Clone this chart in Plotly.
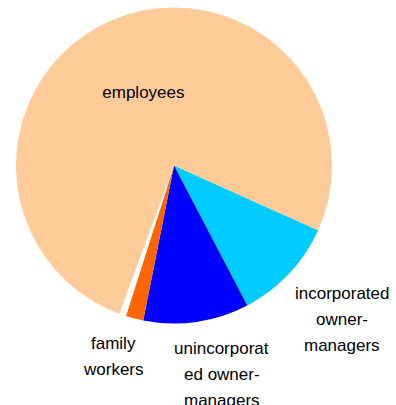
import plotly.graph_objects as go

# Share of workers by status, drawn clockwise starting with incorporated owner-managers
categories = ["incorporated owner-managers", "unincorporated owner-managers",
              "family workers", "other", "employees"]
shares = [10.6, 10.8, 1.8, 0.7, 76.1]
slice_colors = ["#00CCFF", "#0000FF", "#FF6600", "#FFFFFF", "#FFCC99"]
inside_text = ["", "", "", "", "employees"]

# Outside captions, wrapped line by line, with the pixel centre of each caption block
outside_captions = [
    (["incorporated", "owner-", "managers"], 342, 319),
    (["unincorporat", "ed owner-", "managers"], 222, 374),
    (["family", "workers"], 113, 356),
]

W, H = 396, 405
FONT = "Liberation Sans, Arial, Helvetica, sans-serif"
LINE_GAP = 26

fig = go.Figure(go.Pie(
    labels=categories,
    values=shares,
    text=inside_text,
    textinfo="text",
    textposition="inside",
    insidetextorientation="horizontal",
    marker=dict(colors=slice_colors, line=dict(width=0)),
    sort=False,
    direction="clockwise",
    rotation=114.2,
    hoverinfo="label+percent",
    insidetextfont=dict(family=FONT, size=17, color="#000000"),
    domain=dict(x=[16 / W, 332 / W], y=[1 - 323.5 / H, 1 - 7.5 / H]),
))

for lines, cx, cy in outside_captions:
    top = cy - LINE_GAP * (len(lines) - 1) / 2
    for i, line in enumerate(lines):
        fig.add_annotation(
            x=cx / W, y=1 - (top + i * LINE_GAP) / H,
            xref="paper", yref="paper",
            text=line, showarrow=False,
            xanchor="center", yanchor="middle",
            font=dict(family=FONT, size=17, color="#000000"),
        )

fig.update_layout(
    width=W,
    height=H,
    autosize=False,
    margin=dict(l=0, r=0, t=0, b=0),
    paper_bgcolor="#FFFFFF",
    plot_bgcolor="#FFFFFF",
    showlegend=False,
)

fig.write_html("out.html")
